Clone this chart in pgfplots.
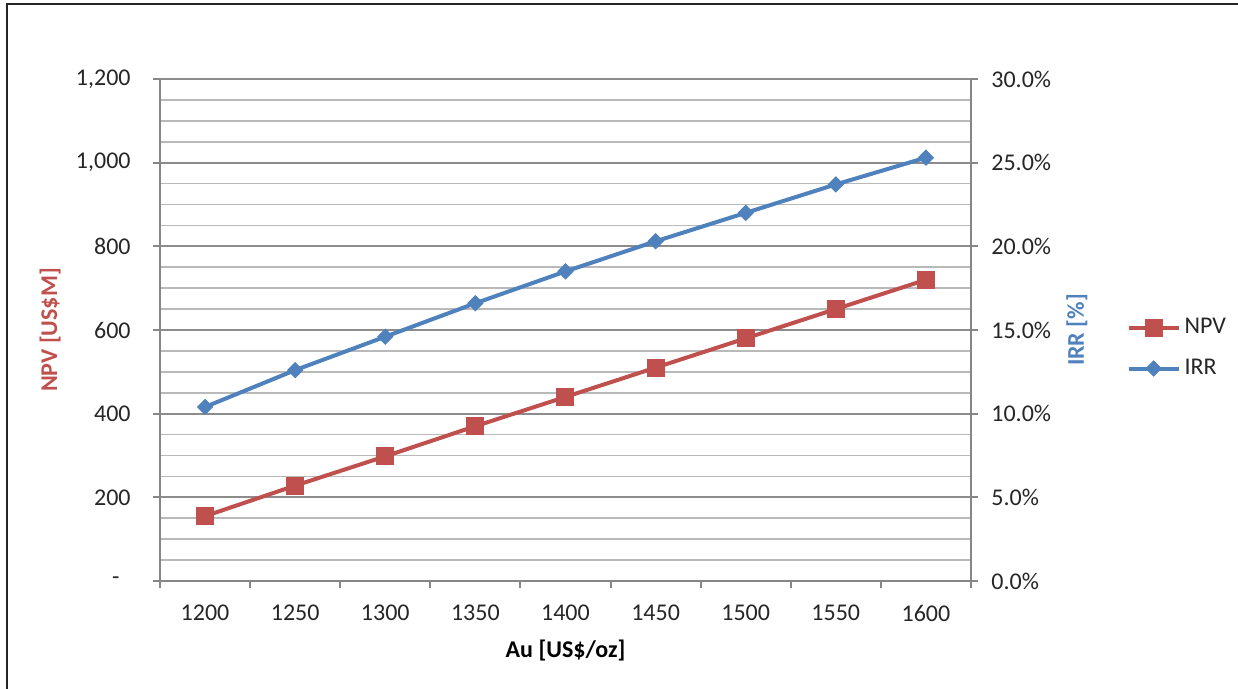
\documentclass[border=0pt]{standalone}
\usepackage{fontspec}
\setmainfont{Carlito}
\usepackage{pgfplots}
\pgfplotsset{compat=1.18}
\definecolor{npvred}{RGB}{192,80,77}
\definecolor{irrblue}{RGB}{79,129,189}
\definecolor{axisgray}{RGB}{134,134,134}
\definecolor{majgrid}{RGB}{140,140,140}
\definecolor{mingrid}{RGB}{185,185,185}
\definecolor{labelgray}{RGB}{38,38,38}

\pgfplotsset{
  base/.style={
    width=405.5pt, height=251pt, scale only axis,
    xmin=0.5, xmax=9.5,
    tick align=outside,
    major tick length=3.5pt,
    minor tick length=3.5pt,
    axis line style={-, draw=axisgray, line width=1pt},
    tick style={draw=axisgray, line width=1pt},
    tick label style={text=labelgray},
    label style={font=\bfseries},
    /pgf/number format/assume math mode=true,
  },
  npvstyle/.style={color=npvred, line width=2pt, mark=square*, mark size=4.25pt,
    mark options={solid, fill=npvred, line width=0.5pt}},
  irrstyle/.style={color=irrblue, line width=2pt, mark=square*, mark size=2.65pt,
    mark options={solid, fill=irrblue, rotate=45, line width=0.5pt}},
}

\begin{document}
\fontsize{12}{14.4}\selectfont
\begin{tikzpicture}
\useasboundingbox (-80pt,-54pt) rectangle (539pt,290.5pt);
\draw[line width=1.2pt, black!85] (-76.5pt,-60pt) -- (-76.5pt,288.5pt) -- (545pt,288.5pt);

% left axis: NPV
\begin{axis}[base,
  axis x line*=bottom, axis y line*=left,
  ymin=0, ymax=1200,
  ytick={0,200,...,1200},
  yticklabels={{-\hspace*{5.5pt}},200,400,600,800,{1,000},{1,200}},
  yticklabel style={xshift=-7pt},
  xticklabel style={yshift=-4.5pt},
  minor y tick num=3,
  ymajorgrids, yminorgrids,
  major grid style={draw=majgrid, line width=1pt},
  minor grid style={draw=mingrid, line width=0.8pt},
  minor y tick style={draw=none},
  xtick={1,...,9},
  xticklabels={1200,1250,1300,1350,1400,1450,1500,1550,1600},
  major x tick style={draw=none},
  minor xtick={0.5,1.5,...,9.5},
  xlabel={Au [US\$/oz]},
  ylabel={NPV [US\$M]},
  ylabel style={at={(axis description cs:-0.1356,0.5)}, anchor=center, text=npvred},
  xlabel style={at={(axis description cs:0.5,-0.1375)}, anchor=center},
]
\addplot[npvstyle] coordinates {
  (1,155) (2,228) (3,298) (4,370) (5,440) (6,510) (7,580) (8,650) (9,720)
};
\end{axis}

% right axis: IRR
\begin{axis}[base,
  axis x line=none, axis y line*=right,
  ymin=0, ymax=30,
  ytick={0,5,...,30},
  yticklabels={0.0\%,5.0\%,10.0\%,15.0\%,20.0\%,25.0\%,30.0\%},
  yticklabel style={xshift=2.5pt},
  ylabel={IRR [\%]},
  ylabel style={at={(axis description cs:1.1307,0.5)}, anchor=center, text=irrblue},
  legend style={draw=none, fill=none, at={(axis description cs:1.184,0.464)}, anchor=west,
    cells={anchor=west}, row sep=7pt, font=\fontsize{12}{14.4}\selectfont, text=labelgray},
  legend image code/.code={
    \draw[mark repeat=2, mark phase=2] plot coordinates {(0pt,0pt) (12.5pt,0pt) (25pt,0pt)};
  },
]
\addlegendimage{npvstyle}
\addlegendentry{NPV}
\addplot[irrstyle] coordinates {
  (1,10.4) (2,12.6) (3,14.6) (4,16.6) (5,18.5) (6,20.3) (7,22.0) (8,23.7) (9,25.3)
};
\addlegendentry{IRR}
\end{axis}
\end{tikzpicture}
\end{document}
